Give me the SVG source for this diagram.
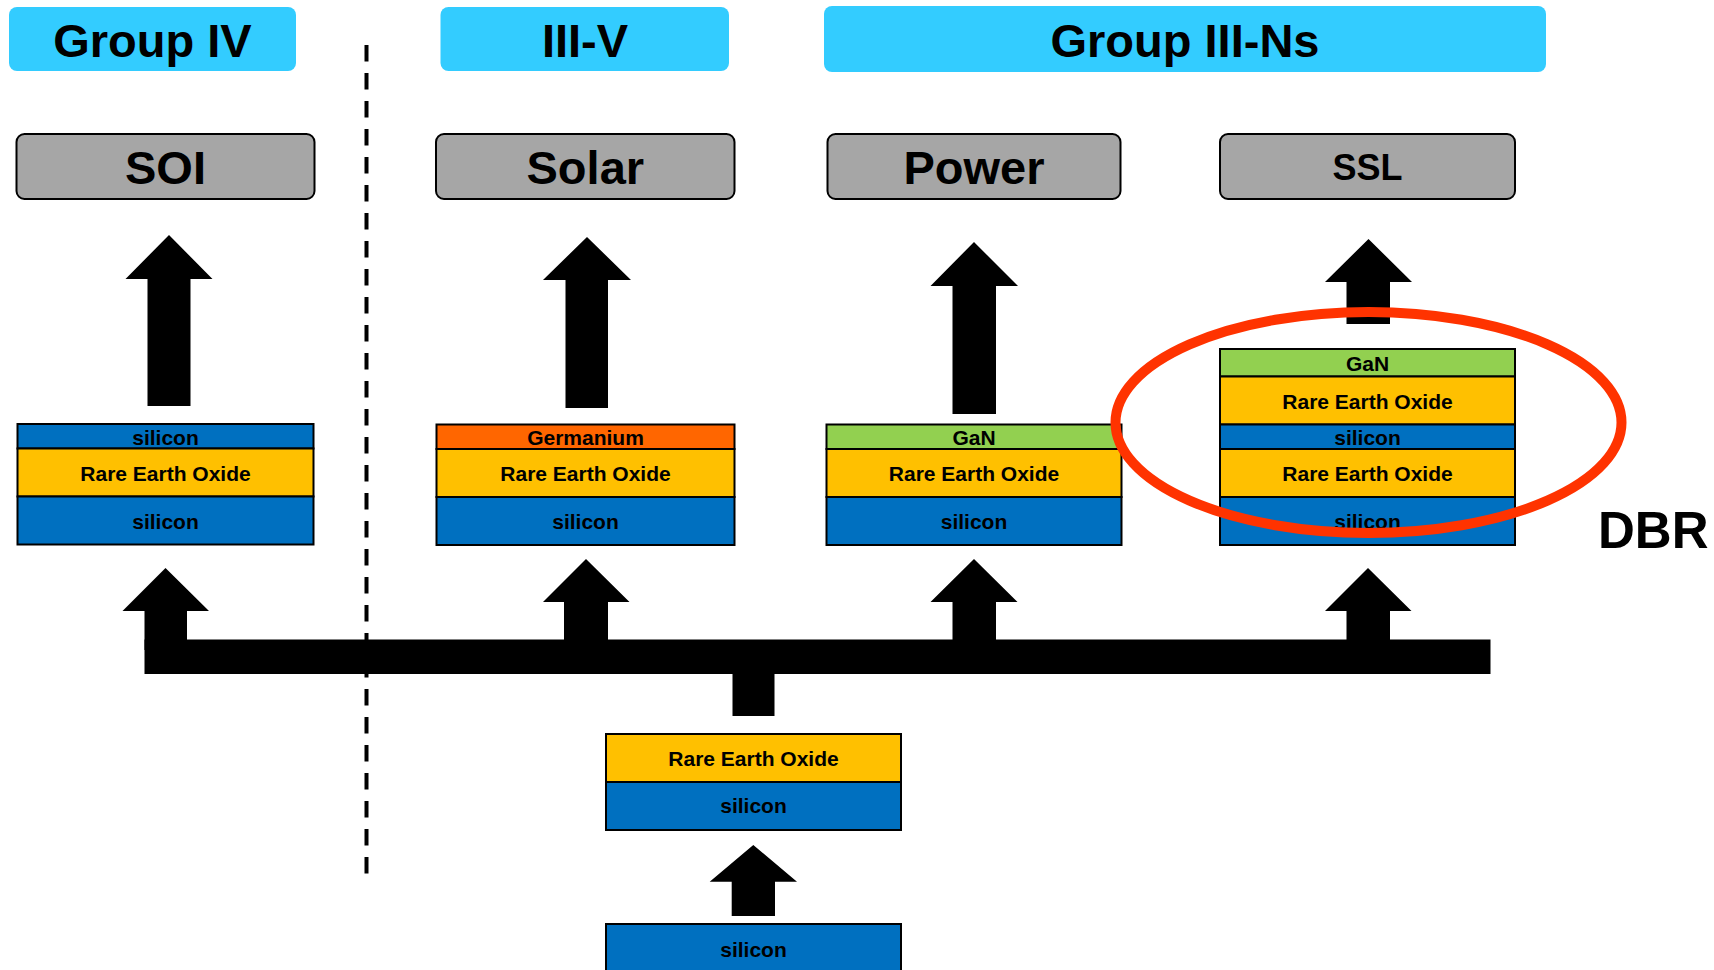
<svg xmlns="http://www.w3.org/2000/svg" width="1714" height="970" viewBox="0 0 1714 970">
<style>
text{font-family:"Liberation Sans",Arial,sans-serif;font-weight:bold;fill:#000;text-anchor:middle}
.hdr{fill:#33CCFF}
.hdr-t{font-size:47px}
.app{fill:#A6A6A6;stroke:#000;stroke-width:2}
.app-t{font-size:47px}
.si{fill:#0070C0;stroke:#000;stroke-width:2}
.reo{fill:#FFC000;stroke:#000;stroke-width:2}
.gan{fill:#92D050;stroke:#000;stroke-width:2}
.ge{fill:#FF6600;stroke:#000;stroke-width:2}
.lt{font-size:21px}
.arr{fill:#000}
</style>
<rect width="1714" height="970" fill="#fff"/>

<g id="hdr-group-iv"><rect class="hdr" x="9" y="7" width="287" height="64" rx="8"/><text class="hdr-t" x="152.5" y="57">Group IV</text></g>
<g id="hdr-iii-v"><rect class="hdr" x="440.5" y="7" width="288.5" height="64" rx="8"/><text class="hdr-t" x="585" y="57">III-V</text></g>
<g id="hdr-group-iii-ns"><rect class="hdr" x="824" y="6" width="722" height="66" rx="8"/><text class="hdr-t" x="1185" y="57">Group III-Ns</text></g>

<g id="divider"><line x1="366.5" y1="45" x2="366.5" y2="874" stroke="#000" stroke-width="4" stroke-dasharray="16.5 11.5"/></g>

<g id="app-soi"><rect class="app" x="16.5" y="134" width="298" height="65" rx="8"/><text class="app-t" x="165.5" y="184">SOI</text></g>
<g id="app-solar"><rect class="app" x="436" y="134" width="298.5" height="65" rx="8"/><text class="app-t" x="585.3" y="184">Solar</text></g>
<g id="app-power"><rect class="app" x="827.5" y="134" width="293" height="65" rx="8"/><text class="app-t" x="974" y="184">Power</text></g>
<g id="app-ssl"><rect class="app" x="1220" y="134" width="295" height="65" rx="8"/><text style="font-size:36px" x="1367.5" y="180">SSL</text></g>

<g id="connectors">
<polygon class="arr" points="169,235 212.5,279 190.5,279 190.5,406 147.5,406 147.5,279 125.5,279"/>
<polygon class="arr" points="587,237 631,280 608,280 608,408 565.5,408 565.5,280 543,280"/>
<polygon class="arr" points="974,242 1018,286 996,286 996,414 952.5,414 952.5,286 930.5,286"/>
<polygon class="arr" points="1368.5,239 1412,282 1390,282 1390,324 1346.5,324 1346.5,282 1325,282"/>
<rect class="arr" x="144.5" y="639.5" width="1346" height="34.5"/>
<polygon class="arr" points="165.5,568 209,611 187,611 187,650 144.5,650 144.5,611 122.5,611"/>
<polygon class="arr" points="586,559 629.5,602 608,602 608,650 564,650 564,602 543,602"/>
<polygon class="arr" points="974,559 1017.5,602 996,602 996,650 952.5,650 952.5,602 930.5,602"/>
<polygon class="arr" points="1368,568 1411.5,611 1390,611 1390,650 1346.5,650 1346.5,611 1325,611"/>
<rect class="arr" x="732.5" y="665" width="42" height="51"/>
<polygon class="arr" points="753.3,845 797,881.7 775,881.7 775,916 731.7,916 731.7,881.7 709.7,881.7"/>
</g>

<g id="stack-soi">
<rect class="si" x="17.5" y="424" width="296" height="24.5"/>
<rect class="reo" x="17.5" y="448.5" width="296" height="48"/>
<rect class="si" x="17.5" y="496.5" width="296" height="48"/>
<text class="lt" x="165.5" y="445">silicon</text>
<text class="lt" x="165.5" y="480.5">Rare Earth Oxide</text>
<text class="lt" x="165.5" y="529">silicon</text>
</g>

<g id="stack-solar">
<rect class="ge" x="436.5" y="424.5" width="298" height="24.5"/>
<rect class="reo" x="436.5" y="449" width="298" height="48"/>
<rect class="si" x="436.5" y="497" width="298" height="48"/>
<text class="lt" x="585.5" y="445">Germanium</text>
<text class="lt" x="585.5" y="480.5">Rare Earth Oxide</text>
<text class="lt" x="585.5" y="529">silicon</text>
</g>

<g id="stack-power">
<rect class="gan" x="826.5" y="424.5" width="295" height="24.5"/>
<rect class="reo" x="826.5" y="449" width="295" height="48"/>
<rect class="si" x="826.5" y="497" width="295" height="48"/>
<text class="lt" x="974" y="445">GaN</text>
<text class="lt" x="974" y="480.5">Rare Earth Oxide</text>
<text class="lt" x="974" y="529">silicon</text>
</g>

<g id="stack-ssl">
<rect class="gan" x="1220" y="349" width="295" height="27.5"/>
<rect class="reo" x="1220" y="376.5" width="295" height="48"/>
<rect class="si" x="1220" y="424.5" width="295" height="24.5"/>
<rect class="reo" x="1220" y="449" width="295" height="48"/>
<rect class="si" x="1220" y="497" width="295" height="48"/>
<text class="lt" x="1367.5" y="371">GaN</text>
<text class="lt" x="1367.5" y="409">Rare Earth Oxide</text>
<text class="lt" x="1367.5" y="445">silicon</text>
<text class="lt" x="1367.5" y="480.5">Rare Earth Oxide</text>
<text class="lt" x="1367.5" y="529">silicon</text>
</g>

<g id="stack-base">
<rect class="reo" x="606" y="734" width="295" height="48"/>
<rect class="si" x="606" y="782" width="295" height="48"/>
<text class="lt" x="753.5" y="765.5">Rare Earth Oxide</text>
<text class="lt" x="753.5" y="813">silicon</text>
</g>

<g id="substrate">
<rect class="si" x="606" y="924" width="295" height="60"/>
<text class="lt" x="753.5" y="956.5">silicon</text>
</g>

<g id="dbr-highlight">
<ellipse cx="1368.5" cy="422.5" rx="253" ry="110.5" fill="none" stroke="#FF3300" stroke-width="10"/>
<text style="font-size:51px;text-anchor:start" x="1598" y="548">DBR</text>
</g>
</svg>
